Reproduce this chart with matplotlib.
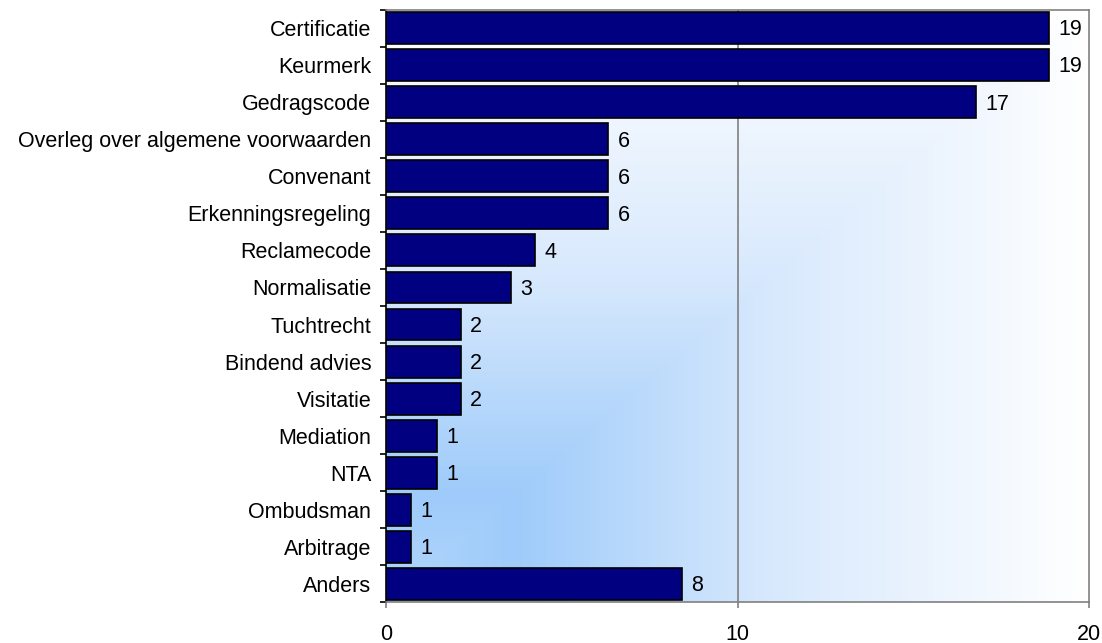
import numpy as np
import matplotlib
matplotlib.use("Agg")
import matplotlib.pyplot as plt
from matplotlib.colors import LinearSegmentedColormap

plt.rcParams["font.family"] = ["Liberation Sans", "DejaVu Sans"]

# categories top to bottom
categories = [
    "Certificatie", "Keurmerk", "Gedragscode", "Overleg over algemene voorwaarden",
    "Convenant", "Erkenningsregeling", "Reclamecode", "Normalisatie", "Tuchtrecht",
    "Bindend advies", "Visitatie", "Mediation", "NTA", "Ombudsman", "Arbitrage", "Anders",
]
# bar lengths
values = [18.86, 18.86, 16.78, 6.32, 6.32, 6.32, 4.23, 3.54, 2.12, 2.12, 2.12,
          1.44, 1.44, 0.70, 0.70, 8.41]
# printed labels
value_labels = ["19", "19", "17", "6", "6", "6", "4", "3", "2", "2", "2",
                "1", "1", "1", "1", "8"]
x_ticks = [0, 10, 20]

FS = 15.5

fig = plt.figure(figsize=(11.02, 6.43), dpi=100)
ax = fig.add_axes([0.3507, 0.0630, 0.6375, 0.9222])

# corner gradient background (blue near lower left, white towards top/right)
nx, ny = 400, 400
gx = np.linspace(0, 1, nx)
gy = np.linspace(0, 1, ny)
X, Y = np.meshgrid(gx, gy)
D = np.maximum(X, Y)
cmap = LinearSegmentedColormap.from_list(
    "bg", [(0.0, "#b2d6fb"), (0.18, "#9ecbfa"), (0.55, "#d8e9fd"), (1.0, "#ffffff")]
)
ax.imshow(D, cmap=cmap, vmin=0, vmax=1, origin="lower", extent=[0, 1, 0, 1],
          transform=ax.transAxes, aspect="auto", zorder=0, interpolation="bilinear")

ax.axvline(10, color="#808080", lw=1.2, zorder=1)

y = np.arange(len(categories))
ax.barh(y, values, height=0.86, color="#000080", edgecolor="black", lw=1.2, zorder=2)

for yi, v, lab in zip(y, values, value_labels):
    ax.text(v + 0.26, yi + 0.05, lab, va="center", ha="left", fontsize=FS, zorder=3)

ax.set_xlim(0, 20)
ax.set_ylim(len(categories) - 0.5, -0.5)
ax.set_xticks(x_ticks)
ax.set_xticklabels([str(t) for t in x_ticks], fontsize=FS)
ax.tick_params(axis="x", length=4.5, width=1.2, color="#808080", pad=11)

ax.set_yticks(y)
ax.set_yticklabels(categories, fontsize=FS)
ax.set_yticks(np.arange(-0.5, len(categories), 1.0), minor=True)
ax.tick_params(axis="y", which="major", length=0, pad=11)
ax.tick_params(axis="y", which="minor", length=4.5, width=1.2, color="black")

for side in ["top", "right", "bottom"]:
    ax.spines[side].set_color("#808080")
    ax.spines[side].set_linewidth(1.2)
ax.spines["left"].set_color("black")
ax.spines["left"].set_linewidth(1.2)

fig.savefig("out.png", dpi=100)
